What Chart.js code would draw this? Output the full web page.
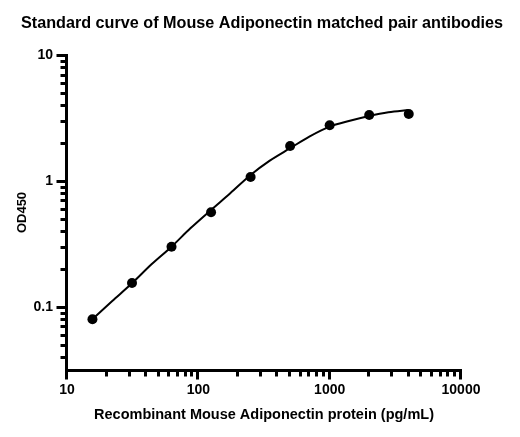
<!DOCTYPE html>
<html>
<head>
<meta charset="utf-8">
<script src="https://cdn.jsdelivr.net/npm/chart.js@4/dist/chart.umd.min.js"></script>
<style>
html, body { margin: 0; padding: 0; background: #fff; }
</style>
</head>
<body>
<canvas id="chart" width="520" height="437"></canvas>
<script>
// measured standards (pg/mL vs OD450)
var concentrations = [15.625, 31.25, 62.5, 125, 250, 500, 1000, 2000, 4000];
var od450 = [0.080, 0.155, 0.301, 0.565, 1.076, 1.896, 2.77, 3.34, 3.40];

// fitted curve
var fitX = [15.6, 22, 31.25, 44, 62.5, 87, 125, 175, 250, 350, 500, 700, 1000, 1400, 2000, 2800, 4000];
var fitY = [0.080, 0.111, 0.154, 0.218, 0.301, 0.421, 0.589, 0.799, 1.116, 1.45, 1.82, 2.25, 2.70, 2.99, 3.28, 3.51, 3.66];

var xRange = [10, 10000];
var yRange = [0.0316, 10];

var chartTitle = 'Standard curve of Mouse Adiponectin matched pair antibodies';

var FONT = "'Liberation Sans', Arial, sans-serif";
Chart.defaults.font.family = FONT;
Chart.defaults.color = '#000';

function isDecade(v) {
	var l = Math.log10(v);
	return Math.abs(l - Math.round(l)) < 1e-6;
}

function logTicks(min, max) {
	var out = [];
	for (var e = Math.floor(Math.log10(min)); e <= Math.ceil(Math.log10(max)); e++) {
		for (var d = 1; d <= 9; d++) {
			var v = d * Math.pow(10, e);
			if (v >= min * 0.999 && v <= max * 1.001) out.push({ v: v, major: d === 1 });
		}
	}
	return out;
}

// title centred on the page, not on the plot box
var titlePlugin = {
	id: 'pageTitle',
	afterDraw: function(chart) {
		var ctx = chart.ctx;
		ctx.save();
		ctx.font = 'bold 16.2px ' + FONT;
		ctx.fillStyle = '#000';
		ctx.textAlign = 'center';
		ctx.textBaseline = 'middle';
		ctx.fillText(chartTitle, 262, 24);
		ctx.restore();
	}
};

var axesPlugin = {
	id: 'prismAxes',
	afterDraw: function(chart) {
		var ctx = chart.ctx, a = chart.chartArea, xs = chart.scales.x, ys = chart.scales.y;
		var left = Math.round(a.left) - 0.5, bottom = Math.round(a.bottom) + 0.5;
		ctx.save();
		ctx.strokeStyle = '#000';
		ctx.lineWidth = 3;
		ctx.lineCap = 'butt';
		logTicks(xs.min, xs.max).forEach(function(t) {
			var px = Math.round(xs.getPixelForValue(t.v)) - 0.5;
			ctx.beginPath();
			ctx.moveTo(px, bottom);
			ctx.lineTo(px, bottom + (t.major ? 9 : 6));
			ctx.stroke();
		});
		logTicks(ys.min, ys.max).forEach(function(t) {
			var py = Math.round(ys.getPixelForValue(t.v)) + 0.5;
			ctx.beginPath();
			ctx.moveTo(left, py);
			ctx.lineTo(left - (t.major ? 10 : 6), py);
			ctx.stroke();
		});
		ctx.lineCap = 'square';
		ctx.beginPath();
		ctx.moveTo(left, Math.round(a.top) + 0.5);
		ctx.lineTo(left, bottom);
		ctx.lineTo(Math.round(a.right) - 0.5, bottom);
		ctx.stroke();
		ctx.restore();
	}
};

function decadeLabel(value) {
	return isDecade(value) ? String(Number(value.toPrecision(1))) : '';
}

new Chart(document.getElementById('chart'), {
	type: 'scatter',
	data: {
		datasets: [{
			type: 'line',
			data: fitX.map(function(x, i) { return { x: x, y: fitY[i] }; }),
			borderColor: '#000',
			borderWidth: 2,
			pointRadius: 0,
			cubicInterpolationMode: 'monotone',
			fill: false
		}, {
			data: concentrations.map(function(x, i) { return { x: x, y: od450[i] }; }),
			backgroundColor: '#000',
			borderWidth: 0,
			pointRadius: 5
		}]
	},
	options: {
		responsive: false,
		animation: false,
		layout: { padding: { top: 55, right: 59, bottom: 0, left: 0 } },
		plugins: {
			legend: { display: false },
			tooltip: { enabled: false },
			title: { display: false }
		},
		scales: {
			x: {
				type: 'logarithmic',
				position: 'bottom',
				min: xRange[0],
				max: xRange[1],
				afterFit: function(s) { s.height = 67; },
				grid: { display: true, drawOnChartArea: false, drawTicks: true, tickLength: 9, tickColor: 'rgba(0,0,0,0)' },
				border: { display: false },
				ticks: {
					autoSkip: false,
					maxRotation: 0,
					padding: 3,
					font: { size: 14, weight: 'bold' },
					color: '#000',
					callback: decadeLabel
				},
				title: {
					display: true,
					text: 'Recombinant Mouse Adiponectin protein (pg/mL)',
					font: { size: 14.5, weight: 'bold' },
					color: '#000',
					padding: { top: 0, bottom: 13 }
				}
			},
			y: {
				type: 'logarithmic',
				min: yRange[0],
				max: yRange[1],
				afterFit: function(s) { s.width = 67; },
				grid: { display: true, drawOnChartArea: false, drawTicks: true, tickLength: 9, tickColor: 'rgba(0,0,0,0)' },
				border: { display: false },
				ticks: {
					autoSkip: false,
					padding: 5,
					font: { size: 14, weight: 'bold' },
					color: '#000',
					callback: decadeLabel
				},
				title: {
					display: true,
					text: 'OD450',
					font: { size: 13, weight: 'bold' },
					color: '#000',
					padding: { top: 15, bottom: 0 }
				}
			}
		}
	},
	plugins: [axesPlugin, titlePlugin]
});
</script>
</body>
</html>
